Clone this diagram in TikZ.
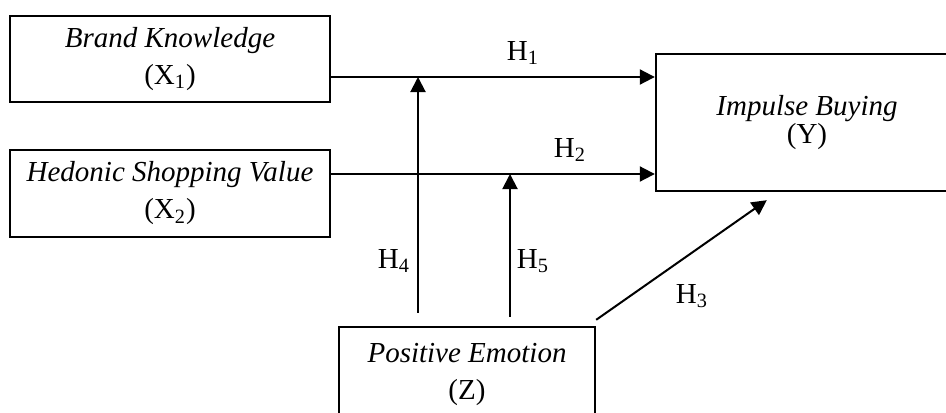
\documentclass[tikz,border=0pt]{standalone}
\usepackage{fontspec}
\setmainfont{Liberation Serif}
\usetikzlibrary{arrows.meta}

\begin{document}
\begin{tikzpicture}[>={Triangle[length=7.5pt,width=7.5pt]},x=0.5pt,y=-0.5pt,
  var/.style={draw,line width=1.2pt,rectangle,inner sep=0pt,align=center,
    font=\fontsize{14.5}{18.5}\selectfont},
  link/.style={line width=1pt,->},
  hyp/.style={inner sep=0pt,font=\fontsize{14.5}{16.5}\selectfont}]
  \useasboundingbox (0,0) rectangle (946,412);
  \clip (0,0) rectangle (946,412);
  \node[var,minimum width=160pt,minimum height=43pt] (bk) at (170,59)
    {\textit{Brand Knowledge}\\(X\textsubscript{1})};
  \node[var,minimum width=160pt,minimum height=43.5pt] (hsv) at (170,193.5)
    {\textit{Hedonic Shopping Value}\\(X\textsubscript{2})};
  \node[var,minimum width=151pt,minimum height=68.5pt,
    font=\fontsize{14.5}{13}\selectfont] (ib) at (807,122.5)
    {\textit{Impulse Buying}\\(Y)};
  \node[var,minimum width=128pt,minimum height=47pt] (pe) at (467,374)
    {\textit{Positive Emotion}\\(Z)};
  \coordinate (m1) at (418,77);
  \coordinate (m2) at (510,174);
  \draw[link] ([yshift=-9pt]bk.east) -- ([yshift=-9pt]bk.east -| ib.west);
  \draw[link] ([yshift=9.75pt]hsv.east) -- ([yshift=9.75pt]hsv.east -| ib.west);
  \draw[link] (m1 |- pe.north) ++(0,-13) -- (m1);
  \draw[link] (m2 |- pe.north) ++(0,-9) -- (m2);
  \draw[link] ([yshift=3pt]pe.north east) -- ([xshift=56pt,yshift=-4pt]ib.south west);
  \node[hyp] (h1) at (523,53) {H\textsubscript{1}};
  \node[hyp] (h2) at (570,150) {H\textsubscript{2}};
  \node[hyp] (h3) at (692,296) {H\textsubscript{3}};
  \node[hyp] (h4) at (394,261) {H\textsubscript{4}};
  \node[hyp] (h5) at (533,261) {H\textsubscript{5}};
\end{tikzpicture}
\end{document}
